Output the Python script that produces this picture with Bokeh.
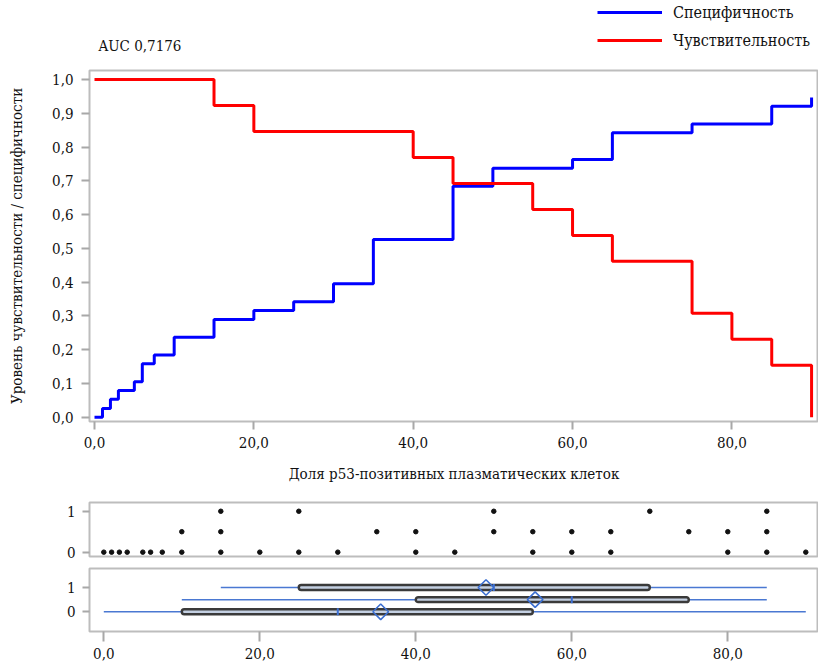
import numpy as np
from bokeh.plotting import figure
from bokeh.layouts import column
from bokeh.models import (Range1d, FixedTicker, Legend, LegendItem,
                          CustomJSTickFormatter)
from bokeh.embed import file_html
from bokeh.resources import INLINE
from bokeh.core.properties import value

# --- ROC cut-off curves: cut-off value vs. specificity / sensitivity ---
spec_cut = [0, 1, 2, 3, 5, 6, 7.5, 10, 15, 20, 25, 30, 35, 45, 50, 60, 65, 75, 85, 90]
spec_val = [0.0, 0.026, 0.053, 0.079, 0.105, 0.158, 0.184, 0.237, 0.289, 0.316,
            0.342, 0.395, 0.526, 0.684, 0.737, 0.763, 0.842, 0.868, 0.921, 0.947]
sens_cut = [0, 15, 20, 40, 45, 55, 60, 65, 75, 80, 85, 90]
sens_val = [1.0, 0.923, 0.846, 0.769, 0.692, 0.615, 0.538, 0.462, 0.308, 0.231, 0.154, 0.0]
auc = "0,7176"
series_names = ["Специфичность", "Чувствительность"]

# --- observed values per outcome row (top, middle, bottom) ---
group_levels = [1, 0.5, 0]
dots_top = [15, 25, 50, 70, 85]
dots_mid = [10, 15, 35, 40, 50, 55, 60, 65, 75, 80, 85]
dots_bottom = [0, 1, 2, 3, 5, 6, 7.5, 10, 15, 20, 25, 30, 40, 45, 55, 60, 65, 80, 85, 90]

# --- box summaries per row (top, middle, bottom) ---
box_min = [15, 10, 0]
box_q1 = [25, 40, 10]
box_med = [50, 60, 30]
box_q3 = [70, 75, 55]
box_max = [85, 85, 90]
box_mean = [49, 55.3, 35.5]

x_ticks = [0, 20, 40, 60, 80]

SERIF = "'DejaVu Serif Condensed', 'DejaVu Serif'"
FS = "15px"
BLUE = "#0000ff"
RED = "#ff0000"
FRAME = "#bdbdbd"
TICK = "#a8a8a8"
LEFT = 89  # common left edge of every plot frame in the column

comma_fmt = CustomJSTickFormatter(code="return tick.toFixed(1).replace('.', ',');")


def style_axis(ax, tick_out, standoff):
    ax.axis_line_color = None
    ax.major_tick_line_color = TICK
    ax.major_tick_line_width = 2
    ax.major_tick_in = 0
    ax.major_tick_out = tick_out
    ax.minor_tick_line_color = None
    ax.major_label_standoff = standoff
    ax.major_label_text_font = SERIF
    ax.major_label_text_font_size = FS
    ax.major_label_text_color = "#111111"
    ax.axis_label_text_font = SERIF
    ax.axis_label_text_font_size = FS
    ax.axis_label_text_font_style = "normal"
    ax.axis_label_text_color = "#111111"


def base_fig(height, xr, yr, top, bottom, x_axis=True):
    f = figure(width=818, height=height, x_range=xr, y_range=yr,
               toolbar_location=None, output_backend="svg",
               min_border_left=LEFT, min_border_right=0,
               min_border_top=top, min_border_bottom=bottom,
               x_axis_location="below" if x_axis else None)
    f.grid.visible = False
    f.outline_line_color = FRAME
    f.outline_line_width = 2
    return f


# --- header: AUC text and legend (x in page pixels, y from the top) ---
hdr = figure(width=818, height=65, x_range=Range1d(LEFT, 818), y_range=Range1d(65, 0),
             toolbar_location=None, output_backend="svg",
             min_border_left=LEFT, min_border_right=0, min_border_top=0, min_border_bottom=0,
             x_axis_location=None, y_axis_location=None)
hdr.outline_line_color = None
hdr.grid.visible = False
hdr.text(x=[98], y=[45], text=[f"AUC {auc}"], text_font=value(SERIF),
         text_font_size=FS, text_baseline="middle", text_align="left",
         text_color="#111111")
# legend-only line renderers (a single NaN point draws nothing on the canvas)
r_spec = hdr.line(x=[np.nan], y=[np.nan], line_color=BLUE, line_width=3)
r_sens = hdr.line(x=[np.nan], y=[np.nan], line_color=RED, line_width=3)
legend = Legend(items=[LegendItem(label=series_names[0], renderers=[r_spec]),
                       LegendItem(label=series_names[1], renderers=[r_sens])],
                location="top_right", margin=0, padding=10, spacing=4,
                label_height=24, label_width=145, glyph_height=24, glyph_width=65,
                label_standoff=11, border_line_color=None,
                background_fill_alpha=0, label_text_font=SERIF,
                label_text_font_size="16px", label_text_color="#111111")
hdr.add_layout(legend)

# --- main ROC cut-off plot ---
p = base_fig(425, Range1d(-0.628, 90.87), Range1d(-0.0127, 1.0267), top=5, bottom=69)
p.step(spec_cut, spec_val, mode="after", line_color=BLUE, line_width=3)
p.step(sens_cut, sens_val, mode="after", line_color=RED, line_width=3)

style_axis(p.xaxis[0], 8, 7)
p.xaxis.ticker = FixedTicker(ticks=x_ticks)
p.xaxis.formatter = comma_fmt
p.xaxis.axis_label = "Доля p53-позитивных плазматических клеток"
p.xaxis.axis_label_standoff = 14

style_axis(p.yaxis[0], 8, 8)
p.yaxis.ticker = FixedTicker(ticks=list(np.round(np.arange(0, 1.01, 0.1), 1)))
p.yaxis.formatter = comma_fmt
p.yaxis.axis_label = "Уровень чувствительности / специфичности"
p.yaxis.axis_label_standoff = 23

# --- dot plot of observed values ---
shared_x = Range1d(-1.833, 91.63)
d = base_fig(71, shared_x, Range1d(-0.106, 1.214), top=12, bottom=5, x_axis=False)
for vals, lvl in zip([dots_top, dots_mid, dots_bottom], group_levels):
    d.scatter(vals, [lvl] * len(vals), size=4.5, color="#111111")
style_axis(d.yaxis[0], 7, 7)
d.yaxis.ticker = FixedTicker(ticks=[0, 1])

# --- box plots per row ---
b = base_fig(105, shared_x, Range1d(-0.81, 1.78), top=7, bottom=35)
b.segment(x0=box_min, y0=group_levels, x1=box_max, y1=group_levels,
          line_color="#4a78d2", line_width=1.5)
b.hbar(y=group_levels, left=box_q1, right=box_q3, height=0.2,
       fill_color="#c4d0e2", line_color="#3a3a3a", line_width=2.5, border_radius=3)
b.scatter(box_med, group_levels, marker="dash", angle=np.pi / 2, size=7,
          line_color="#3c6fd4", line_width=2)
b.scatter(box_mean, group_levels, marker="square", angle=np.pi / 4, size=11,
          fill_alpha=0, line_color="#3c6fd0", line_width=1.6)

style_axis(b.xaxis[0], 10, 6)
b.xaxis.ticker = FixedTicker(ticks=x_ticks)
b.xaxis.formatter = comma_fmt
style_axis(b.yaxis[0], 7, 7)
b.yaxis.ticker = FixedTicker(ticks=[0, 1])

layout = column(hdr, p, d, b, spacing=0)
open("out.html", "w").write(file_html(layout, INLINE))
